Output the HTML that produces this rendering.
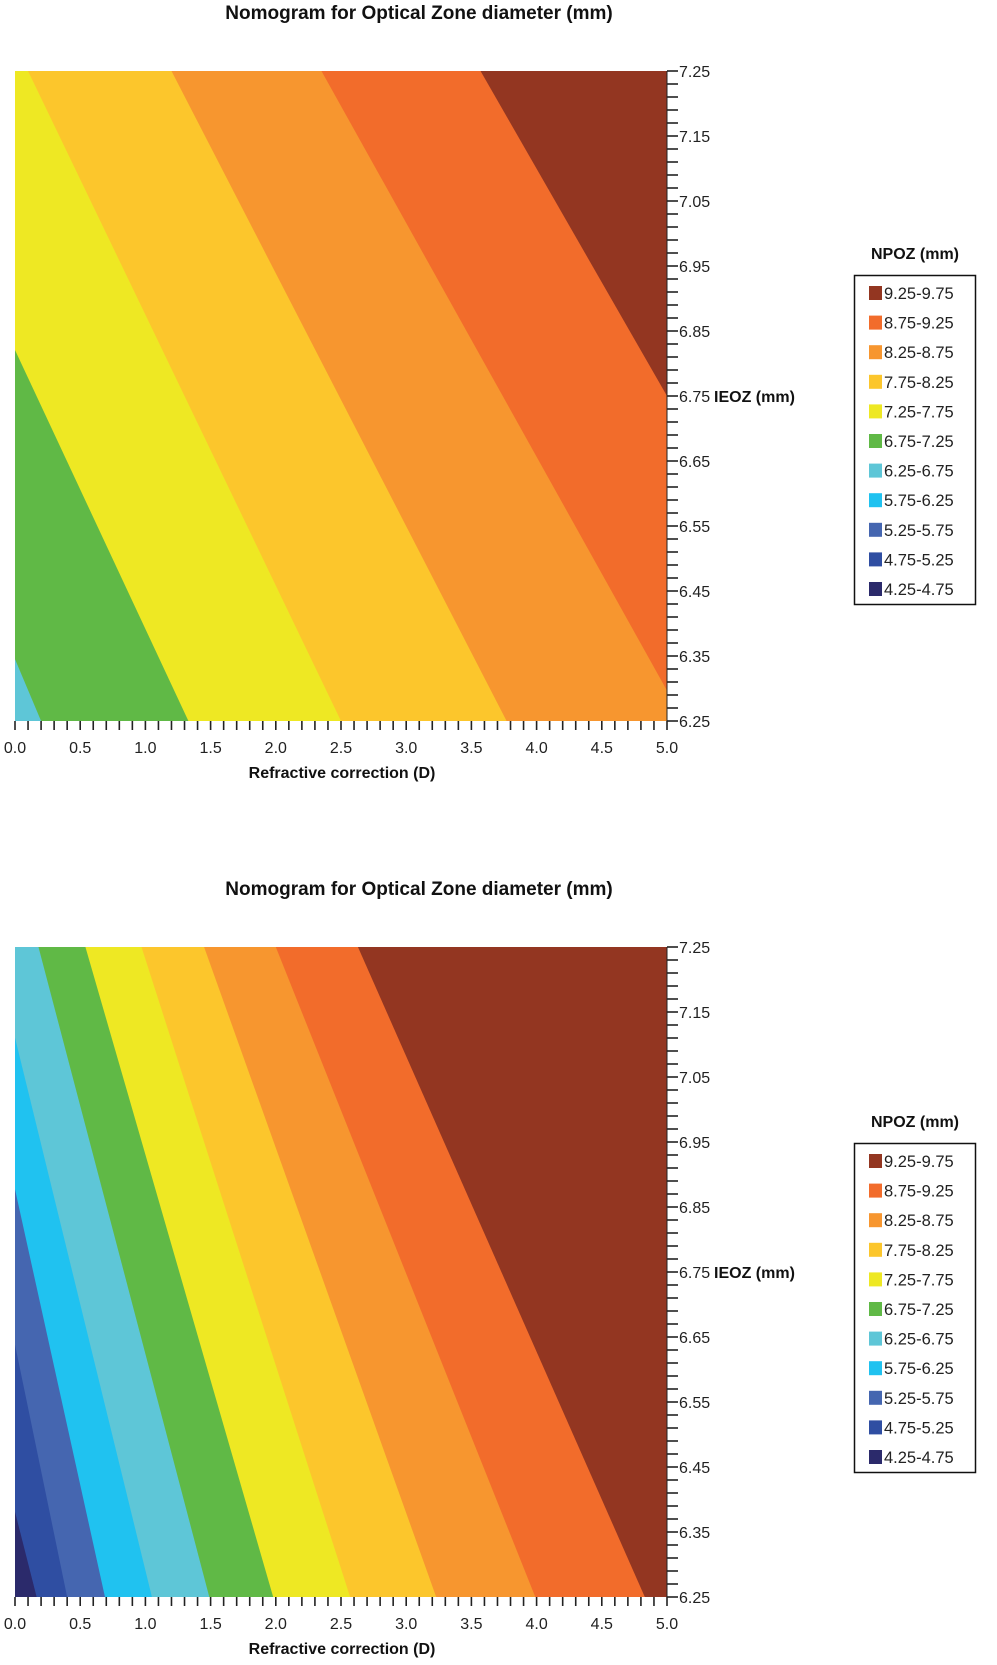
<!DOCTYPE html>
<html><head><meta charset="utf-8"><style>
html,body{margin:0;padding:0;background:#fff;overflow:hidden;width:997px;height:1665px;}
svg{display:block;font-family:"Liberation Sans",Arial,sans-serif;}
</style></head><body>
<svg id="svg" width="997" height="1665" viewBox="0 0 997 1665" xmlns="http://www.w3.org/2000/svg"></svg>
<script>
const NS="http://www.w3.org/2000/svg";
const levelLabels=["9.25-9.75","8.75-9.25","8.25-8.75","7.75-8.25","7.25-7.75","6.75-7.25","6.25-6.75","5.75-6.25","5.25-5.75","4.75-5.25","4.25-4.75"];
const bandColors=["#933621","#f26c2b","#f7962f","#fcc62c","#eee823","#60b946","#5ec6d7","#20c2f0","#4566b0","#2f4ea2","#2b2a6b"];
const xTicks=["0.0","0.5","1.0","1.5","2.0","2.5","3.0","3.5","4.0","4.5","5.0"];
const yTicks=["6.25","6.35","6.45","6.55","6.65","6.75","6.85","6.95","7.05","7.15","7.25"];
// chart 1 contour boundaries: level, x at y=7.25 (top), x at y=6.25 (bottom)
const c1Levels=[6.75,7.25,7.75,8.25,8.75,9.25];
const c1TopX=[-1.9,-1.0,0.10,1.20,2.35,3.57];
const c1BotX=[0.2,1.33,2.50,3.77,5.13,6.43];
const c1Base=6.25;
// chart 2 contour boundaries
const c2Levels=[4.75,5.25,5.75,6.25,6.75,7.25,7.75,8.25,8.75,9.25];
const c2TopX=[-1.1,-0.63,-0.41,-0.17,0.18,0.54,0.97,1.45,2.0,2.63];
const c2BotX=[0.166,0.40,0.69,1.05,1.49,1.98,2.57,3.23,3.99,4.83];
const c2Base=4.25;

const svg=document.getElementById('svg');
function el(tag,attrs,parent){const e=document.createElementNS(NS,tag);for(const k in attrs)e.setAttribute(k,attrs[k]);(parent||svg).appendChild(e);return e;}
function colorFor(lv){const i=levelLabels.findIndex(l=>parseFloat(l)===lv);return bandColors[i];}
// clip polygon to half-plane f(p)>=0
function clipHalf(poly,f){
  const out=[];
  for(let i=0;i<poly.length;i++){
    const a=poly[i],b=poly[(i+1)%poly.length];
    const fa=f(a),fb=f(b);
    if(fa>=0)out.push(a);
    if((fa>=0)!==(fb>=0)){const t=fa/(fa-fb);out.push([a[0]+t*(b[0]-a[0]),a[1]+t*(b[1]-a[1])]);}
  }
  return out;
}

function chart(id,oy,levels,topX,botX,base,legTop,legTitleY){
  const L=15,R=667,T=oy,B=oy+650;
  const sx=v=>L+(v/5)*(R-L);
  const sy=v=>B-(v-6.25)/1.0*(B-T);
  const g=el('g',{});
  
  
  const t=el('text',{x:419,y:oy-52,'text-anchor':'middle','font-size':19,'font-weight':'bold',fill:'#111'},g);
  t.textContent="Nomogram for Optical Zone diameter (mm)";
  
  
  const pg=el('g',{},g);
  
  
  const baseRect=el('rect',{x:L,y:T,width:R-L,height:B-T,fill:colorFor(base)},pg);
  
  
  const rectPoly=[[L,T],[R,T],[R,B],[L,B]];
  levels.forEach((lv,i)=>{
    const ax=sx(topX[i]),ay=T,bx=sx(botX[i]),by=B;
    // high side is to the right of the line
    const f=p=>(bx-ax)*(p[1]-ay)-(by-ay)*(p[0]-ax); // sign test
    const sgn=f([R+1000,(T+B)/2])>=0?1:-1;
    const poly=clipHalf(rectPoly,p=>sgn*f(p));
    if(poly.length<3)return;
    const p=el('polygon',{points:poly.map(q=>q[0].toFixed(2)+','+q[1].toFixed(2)).join(' '),fill:colorFor(lv)},pg);
    
    
  });
  for(let k=0;k<=50;k++){const x=sx(k*0.1);el('line',{x1:x,y1:B,x2:x,y2:B+9,stroke:'#222','stroke-width':1.6},g);}
  xTicks.forEach(s=>{const tx=el('text',{x:sx(parseFloat(s)),y:B+32,'text-anchor':'middle','font-size':16,fill:'#222'},g);tx.textContent=s;
    });
  const xt=el('text',{x:342,y:B+57,'text-anchor':'middle','font-size':16,'font-weight':'bold',fill:'#111'},g);
  xt.textContent="Refractive correction (D)";
  
  el('line',{x1:R,y1:T,x2:R,y2:B,stroke:'#222','stroke-width':1},g);
  for(let k=0;k<=50;k++){const y=sy(6.25+k*0.02);el('line',{x1:R,y1:y,x2:R+11,y2:y,stroke:'#222','stroke-width':1.6},g);}
  yTicks.forEach(s=>{const ty=el('text',{x:R+12,y:sy(parseFloat(s))+6,'font-size':16,fill:'#222'},g);ty.textContent=s;
    });
  const yt=el('text',{x:R+47,y:sy(6.75)+6,'font-size':16,'font-weight':'bold',fill:'#111'},g);
  yt.textContent="IEOZ (mm)";
  
  const lg=el('g',{},g);
  
  const lt=el('text',{x:915,y:legTitleY+6,'text-anchor':'middle','font-size':16,'font-weight':'bold',fill:'#111'},lg);
  lt.textContent="NPOZ (mm)";
  
  el('rect',{x:854.5,y:legTop+0.5,width:121,height:329,fill:'none',stroke:'#111','stroke-width':1.5},lg);
  levelLabels.forEach((s,i)=>{
    const cy=legTop+18+i*29.6;
    const sw=el('rect',{x:869,y:cy-7,width:13,height:14,fill:bandColors[i]},lg);
    
    const tx=el('text',{x:884,y:cy+6,'font-size':16.5,fill:'#222'},lg);tx.textContent=s;
    
  });
}
chart('chart-top',71,c1Levels,c1TopX,c1BotX,c1Base,275,253);
chart('chart-bottom',947,c2Levels,c2TopX,c2BotX,c2Base,1143,1121);
</script>
</body></html>
